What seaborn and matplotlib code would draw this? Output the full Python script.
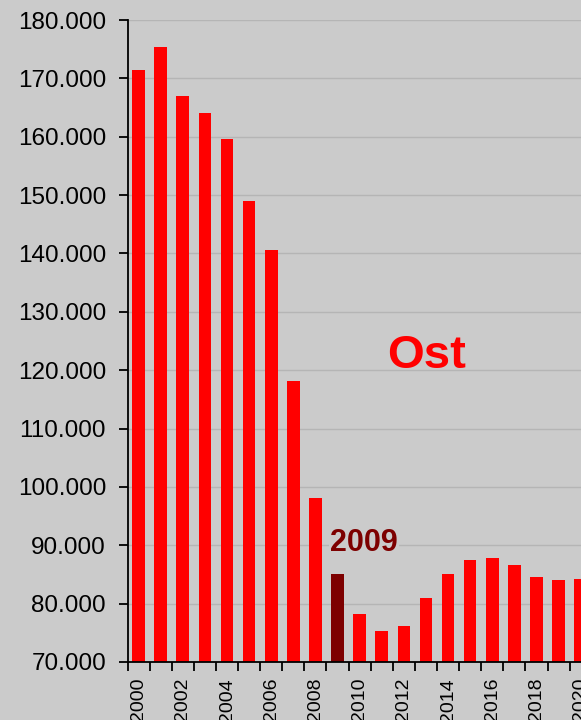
import numpy as np
import pandas as pd
import seaborn as sns
import matplotlib.pyplot as plt
from matplotlib.ticker import FuncFormatter, FixedLocator

years = list(range(2000, 2021))
values = [171400, 175400, 167000, 164100, 159600, 149000, 140600, 118100, 98100,
          85100, 78200, 75300, 76200, 80900, 85000, 87400, 87800, 86600, 84500,
          84000, 84300]
highlight_year = 2009
region_label = "Ost"

bg = "#cbcbcb"
red = "#ff0000"
dark_red = "#7d0000"

sns.set_theme(style="ticks")
plt.rcParams['font.family'] = ['Liberation Sans', 'DejaVu Sans']

df = pd.DataFrame({'Jahr': [str(y) for y in years], 'Wert': values})
palette = {str(y): (dark_red if y == highlight_year else red) for y in years}

fig = plt.figure(figsize=(5.81, 7.2), dpi=100, facecolor=bg)
ax = fig.add_axes([0.2195, 0.0806, 0.799, 0.8916])
ax.set_facecolor(bg)

sns.barplot(data=df, x='Jahr', y='Wert', hue='Jahr', palette=palette,
            legend=False, width=0.57, saturation=1, linewidth=0, ax=ax, zorder=2)

ax.set_ylim(70000, 180000)
ax.set_xlim(-0.5, 20.5)
ax.set_yticks(np.arange(70000, 180001, 10000))
ax.yaxis.set_major_formatter(FuncFormatter(lambda v, p: f"{int(v):,}".replace(",", ".")))
ax.grid(axis='y', color='#b5b5b5', linewidth=1.0, zorder=0)
ax.set_axisbelow(True)

ax.set_xticks(range(0, len(years), 2))
ax.set_xticklabels([str(y) for y in years[::2]], rotation=90)
ax.xaxis.set_minor_locator(FixedLocator(np.arange(-0.5, len(years), 1)))
ax.tick_params(axis='x', which='major', length=0, pad=11.5, labelsize=14,
               labelcolor='black')
ax.tick_params(axis='x', which='minor', length=6.5, width=1.3, direction='out', color='black')
ax.tick_params(axis='y', length=6.5, width=1.3, direction='out', color='black',
               labelsize=17.5, pad=9, labelcolor='black')

for side in ['top', 'right']:
    ax.spines[side].set_visible(False)
for side in ['left', 'bottom']:
    ax.spines[side].set_color('black')
    ax.spines[side].set_linewidth(1.3)

ax.set_xlabel('')
ax.set_ylabel('')

hi = years.index(highlight_year)
ax.text(hi + 1.2, 90400, str(highlight_year), color=dark_red, fontsize=22,
        fontweight='bold', ha='center', va='center',
        bbox=dict(facecolor=bg, edgecolor='none', pad=1))
ax.text(13.05, 122500, region_label, color=red, fontsize=34,
        fontweight='bold', ha='center', va='center')

fig.savefig('out.png', dpi=100, facecolor=bg)
